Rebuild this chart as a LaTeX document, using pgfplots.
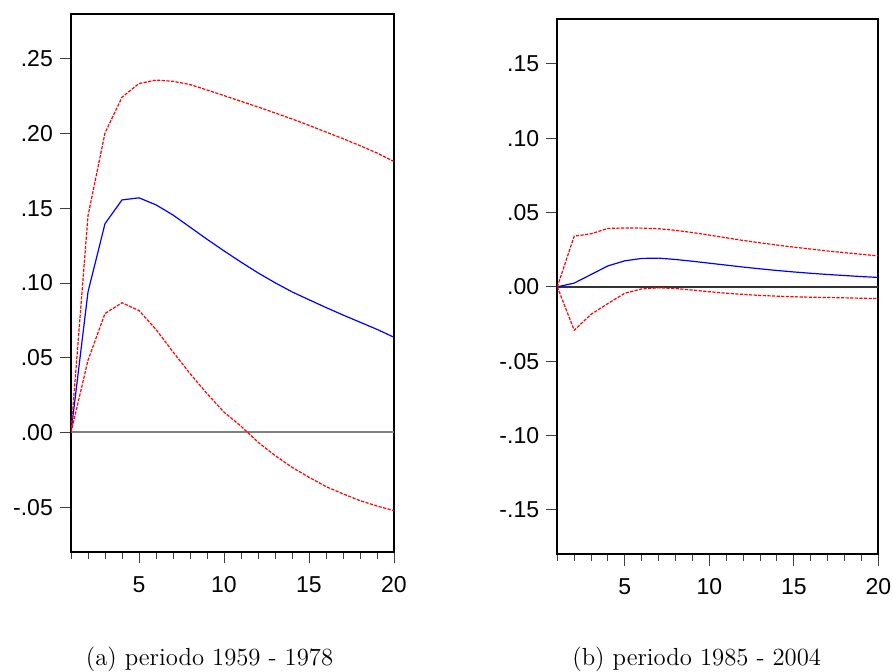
\documentclass[border=0pt]{standalone}
\usepackage{pgfplots}
\pgfplotsset{compat=1.18}
\usepackage{fontspec}
\newfontfamily\arial{Liberation Sans}

\pgfplotstableread{
x  m       up      lo
1  0.0000  0.0000  0.0000
2  0.0940  0.1450  0.0483
3  0.1397  0.2004  0.0796
4  0.1556  0.2243  0.0868
5  0.1570  0.2335  0.0816
6  0.1523  0.2358  0.0689
7  0.1455  0.2350  0.0539
8  0.1374  0.2328  0.0394
9  0.1293  0.2292  0.0260
10 0.1215  0.2254  0.0136
11 0.1140  0.2216  0.0042
12 0.1068  0.2178  -0.0065
13 0.1002  0.2138  -0.0154
14 0.0941  0.2098  -0.0233
15 0.0888  0.2055  -0.0300
16 0.0836  0.2010  -0.0362
17 0.0786  0.1966  -0.0411
18 0.0738  0.1919  -0.0456
19 0.0690  0.1870  -0.0492
20 0.0637  0.1813  -0.0523
}\tableA

\pgfplotstableread{
x  m       up      lo
1  0.0000  0.0000  0.0000
2  0.0025  0.0341  -0.0292
3  0.0083  0.0357  -0.0185
4  0.0141  0.0393  -0.0112
5  0.0175  0.0396  -0.0043
6  0.0191  0.0395  -0.0014
7  0.0193  0.0391  -0.0007
8  0.0184  0.0380  -0.0011
9  0.0172  0.0365  -0.0022
10 0.0159  0.0348  -0.0033
11 0.0146  0.0330  -0.0043
12 0.0133  0.0312  -0.0051
13 0.0121  0.0296  -0.0058
14 0.0110  0.0281  -0.0063
15 0.0100  0.0267  -0.0067
16 0.0091  0.0254  -0.0070
17 0.0083  0.0241  -0.0072
18 0.0076  0.0230  -0.0074
19 0.0069  0.0219  -0.0077
20 0.0063  0.0208  -0.0079
}\tableB

\pgfplotsset{
  irf/.style={
    scale only axis,
    anchor=south west,
    xmin=1, xmax=20,
    axis line style={line width=1pt, black},
    xtick={5,10,15,20}, xticklabels={5,10,15,20},
    minor xtick={1,2,...,20},
    tick align=outside,
    xtick pos=left, ytick pos=left,
    major tick length=5.7pt, minor tick length=3.3pt,
    every tick/.style={black!75, line width=0.5pt},
    tick label style={font=\arial\fontsize{11.5}{13}\selectfont, inner sep=0pt},
    x tick label style={anchor=north, yshift=-6.3pt},
    y tick label style={anchor=east, xshift=-3.2pt},
  },
  rd/.style={red, line width=0.6pt, dash pattern=on 1.6pt off 0.7pt},
  bl/.style={blue, line width=0.6pt},
}

\begin{document}
\begin{tikzpicture}
\begin{axis}[irf,
  at={(35.5pt,-276pt)}, width=161.5pt, height=269pt,
  ymin=-0.08, ymax=0.28,
  ytick={-0.05,0,0.05,0.10,0.15,0.20,0.25},
  yticklabels={-.05,.00,.05,.10,.15,.20,.25}]
\addplot[gray, line width=1pt] coordinates {(1,0) (20,0)};
\addplot[bl] table[x=x,y=m] {\tableA};
\addplot[rd] table[x=x,y=up] {\tableA};
\addplot[rd] table[x=x,y=lo] {\tableA};
\end{axis}
\begin{axis}[irf,
  at={(278.65pt,-277.15pt)}, width=160.5pt, height=267.5pt,
  ymin=-0.18, ymax=0.18,
  ytick={-0.15,-0.10,-0.05,0,0.05,0.10,0.15},
  yticklabels={-.15,-.10,-.05,.00,.05,.10,.15}]
\addplot[black!80, line width=0.7pt] coordinates {(1,0) (20,0)};
\addplot[bl] table[x=x,y=m] {\tableB};
\addplot[rd] table[x=x,y=up] {\tableB};
\addplot[rd] table[x=x,y=lo] {\tableB};
\end{axis}
\node[anchor=base, font=\fontsize{12.35}{14}\selectfont] at (104.75pt,-332.5pt) {(a) periodo 1959 - 1978};
\node[anchor=base, font=\fontsize{12.35}{14}\selectfont] at (348.35pt,-332.5pt) {(b) periodo 1985 - 2004};
\pgfresetboundingbox
\path (0pt,0pt) rectangle (446.5pt,-335.5pt);
\end{tikzpicture}
\end{document}
